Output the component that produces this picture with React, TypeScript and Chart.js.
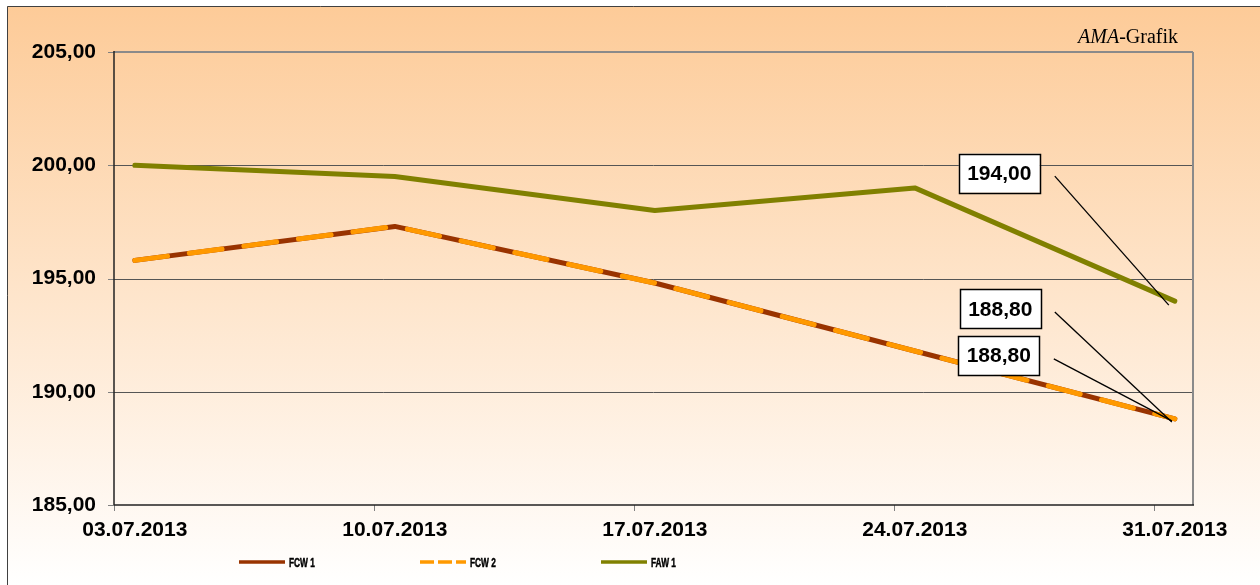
import React, { useEffect, useRef } from 'react';
import { Chart, registerables } from 'chart.js';

Chart.register(...registerables);

const categories = ['03.07.2013', '10.07.2013', '17.07.2013', '24.07.2013', '31.07.2013'];
const fcw1Values = [195.8, 197.3, 194.8, 191.8, 188.8];
const fcw2Values = [195.8, 197.3, 194.8, 191.8, 188.8];
const faw1Values = [200.0, 199.5, 198.0, 199.0, 194.0];
const seriesNames = ['FCW 1', 'FCW 2', 'FAW 1'];
const yTicks = [185, 190, 195, 200, 205];

const W = 1260;
const H = 585;
const X_MIN = -0.08;
const X_MAX = 4.07;
const FONT = '"Liberation Sans", Arial, sans-serif';

const fmt = (v: number) => v.toFixed(2).replace('.', ',');

const line = (ctx: CanvasRenderingContext2D, x1: number, y1: number, x2: number, y2: number) => {
  ctx.beginPath();
  ctx.moveTo(x1, y1);
  ctx.lineTo(x2, y2);
  ctx.stroke();
};

const framePlugin = {
  id: 'frame',
  beforeDraw(chart: any) {
    const ctx = chart.ctx as CanvasRenderingContext2D;
    ctx.save();
    ctx.fillStyle = '#ffffff';
    ctx.fillRect(0, 0, W, H);
    const g = ctx.createLinearGradient(0, 6, 0, H);
    g.addColorStop(0, '#FDCB98');
    g.addColorStop(1, '#FFFFFF');
    ctx.fillStyle = g;
    ctx.fillRect(7, 6, W - 7, H - 6);
    ctx.strokeStyle = '#404040';
    ctx.lineWidth = 1;
    ctx.beginPath();
    ctx.moveTo(7.5, H);
    ctx.lineTo(7.5, 6.5);
    ctx.lineTo(W, 6.5);
    ctx.stroke();
    // title
    ctx.fillStyle = '#000';
    ctx.textBaseline = 'alphabetic';
    ctx.font = '20px "Liberation Serif", "Times New Roman", serif';
    const rest = '-Grafik';
    const restW = ctx.measureText(rest).width;
    ctx.font = 'italic 20px "Liberation Serif", "Times New Roman", serif';
    const amaW = ctx.measureText('AMA').width;
    const xEnd = 1178;
    const x0 = xEnd - restW - amaW;
    ctx.fillText('AMA', x0, 43);
    ctx.font = '20px "Liberation Serif", "Times New Roman", serif';
    ctx.fillText(rest, x0 + amaW, 43);
    ctx.restore();
  },
  beforeDatasetsDraw(chart: any) {
    const ctx = chart.ctx as CanvasRenderingContext2D;
    const { left, right, top, bottom } = chart.chartArea;
    const y = chart.scales.y;
    const x = chart.scales.x;
    ctx.save();
    ctx.lineWidth = 1;
    yTicks.forEach((v) => {
      const py = Math.round(y.getPixelForValue(v)) + 0.5;
      if (v > yTicks[0] && v < yTicks[yTicks.length - 1]) {
        ctx.strokeStyle = '#555555';
        line(ctx, left, py, right, py);
      }
      ctx.strokeStyle = '#808080';
      line(ctx, left - 6, py, left, py);
    });
    categories.forEach((_, i) => {
      const px = Math.round(x.getPixelForValue(i + X_MIN)) + 0.5;
      ctx.strokeStyle = '#808080';
      line(ctx, px, bottom, px, bottom + 6);
    });
    ctx.strokeStyle = '#8a8a8a';
    ctx.lineWidth = 2;
    line(ctx, left, top, right, top);
    line(ctx, right, top, right, bottom);
    ctx.strokeStyle = '#222222';
    ctx.lineWidth = 1.5;
    line(ctx, left, top - 1, left, bottom);
    line(ctx, left, bottom, right + 1, bottom);
    ctx.restore();
  },
};

// label placement relative to the last point of each dataset (style only)
const labelPlacement = [
  { bx: -174.5, by: -110, lx1: -120, ly1: -107, lx2: -3, ly2: 3 },
  { bx: -176, by: -63.5, lx1: -121, ly1: -60, lx2: -3, ly2: 2 },
  { bx: -175.5, by: -128, lx1: -120, ly1: -125, lx2: -6, ly2: 4 },
];

const labelPlugin = {
  id: 'lastLabels',
  afterDatasetsDraw(chart: any) {
    const ctx = chart.ctx as CanvasRenderingContext2D;
    ctx.save();
    chart.data.datasets.forEach((ds: any, di: number) => {
      const meta = chart.getDatasetMeta(di);
      const n = meta.data.length - 1;
      const pt = meta.data[n];
      const p = labelPlacement[di];
      ctx.strokeStyle = '#000';
      ctx.lineWidth = 1.3;
      line(ctx, pt.x + p.lx1, pt.y + p.ly1, pt.x + p.lx2, pt.y + p.ly2);
    });
    chart.data.datasets.forEach((ds: any, di: number) => {
      const meta = chart.getDatasetMeta(di);
      const n = meta.data.length - 1;
      const pt = meta.data[n];
      const val = ds.data[n].y as number;
      const p = labelPlacement[di];
      const cx = pt.x + p.bx;
      const cy = pt.y + p.by;
      const bw = 81;
      const bh = 39;
      ctx.fillStyle = '#ffffff';
      ctx.fillRect(cx - bw / 2, cy - bh / 2, bw, bh);
      ctx.strokeStyle = '#000';
      ctx.lineWidth = 1.5;
      ctx.strokeRect(Math.round(cx - bw / 2) + 0.5, Math.round(cy - bh / 2) + 0.5, bw, bh);
      ctx.fillStyle = '#000';
      ctx.font = `bold 21px ${FONT}`;
      ctx.textAlign = 'center';
      ctx.textBaseline = 'middle';
      ctx.fillText(fmt(val), cx, cy + 1);
    });
    ctx.restore();
  },
};

const legendItems = [
  { x: 239, color: '#993300', dash: [] as number[] },
  { x: 420, color: '#FF9900', dash: [14, 4] },
  { x: 601, color: '#808000', dash: [] as number[] },
];

const legendPlugin = {
  id: 'customLegend',
  afterDraw(chart: any) {
    const ctx = chart.ctx as CanvasRenderingContext2D;
    ctx.save();
    legendItems.forEach((it, i) => {
      ctx.strokeStyle = it.color;
      ctx.lineWidth = 3.5;
      ctx.setLineDash(it.dash);
      line(ctx, it.x, 562, it.x + 46, 562);
      ctx.setLineDash([]);
      ctx.save();
      ctx.translate(it.x + 50, 566.5);
      ctx.scale(0.64, 1);
      ctx.fillStyle = '#000';
      ctx.font = `bold 13px ${FONT}`;
      ctx.textBaseline = 'alphabetic';
      ctx.fillText(seriesNames[i], 0, 0);
      ctx.lineWidth = 0.5;
      ctx.strokeStyle = '#000';
      ctx.strokeText(seriesNames[i], 0, 0);
      ctx.restore();
    });
    ctx.restore();
  },
};

export default function App() {
  const ref = useRef<HTMLCanvasElement | null>(null);
  useEffect(() => {
    document.body.style.margin = '0';
    if (!ref.current) return;
    const toPts = (arr: number[]) => arr.map((v, i) => ({ x: i, y: v }));
    const chart = new Chart(ref.current, {
      type: 'line',
      data: {
        datasets: [
          {
            label: seriesNames[0],
            data: toPts(fcw1Values),
            borderColor: '#993300',
            borderWidth: 5,
            borderCapStyle: 'round',
            borderJoinStyle: 'round',
            pointRadius: 0,
            tension: 0,
            fill: false,
            order: 2,
          },
          {
            label: seriesNames[1],
            data: toPts(fcw2Values),
            borderColor: '#FF9900',
            borderWidth: 5,
            borderDash: [33, 22],
            borderCapStyle: 'round',
            borderJoinStyle: 'round',
            pointRadius: 0,
            tension: 0,
            fill: false,
            order: 1,
          },
          {
            label: seriesNames[2],
            data: toPts(faw1Values),
            borderColor: '#808000',
            borderWidth: 5,
            borderCapStyle: 'round',
            borderJoinStyle: 'round',
            pointRadius: 0,
            tension: 0,
            fill: false,
            order: 0,
          },
        ],
      } as any,
      options: {
        responsive: false,
        animation: false,
        devicePixelRatio: 1,
        layout: { padding: { left: 0, top: 52, right: 67, bottom: 0 } },
        plugins: { legend: { display: false }, tooltip: { enabled: false }, title: { display: false } },
        scales: {
          x: {
            type: 'linear',
            min: X_MIN,
            max: X_MAX,
            grid: { display: false, drawTicks: false },
            border: { display: false },
            afterBuildTicks: (s: any) => {
              s.ticks = categories.map((_, i) => ({ value: i }));
            },
            afterFit: (s: any) => {
              s.height = 80;
            },
            ticks: {
              autoSkip: false,
              maxRotation: 0,
              minRotation: 0,
              padding: 13,
              color: '#000',
              font: { family: FONT, size: 21, weight: 'bold' },
              callback: (v: any) => categories[Math.round(Number(v))] ?? '',
            },
          },
          y: {
            min: 185,
            max: 205,
            grid: { display: false, drawTicks: false },
            border: { display: false },
            afterBuildTicks: (s: any) => {
              s.ticks = yTicks.map((v) => ({ value: v }));
            },
            afterFit: (s: any) => {
              s.width = 114;
            },
            ticks: {
              padding: 18,
              color: '#000',
              font: { family: FONT, size: 21, weight: 'bold' },
              callback: (v: any) => fmt(Number(v)),
            },
          },
        },
      } as any,
      plugins: [framePlugin, labelPlugin, legendPlugin],
    });
    return () => chart.destroy();
  }, []);
  return (
    <div style={{ width: W, height: H }}>
      <canvas ref={ref} width={W} height={H} style={{ display: 'block' }} />
    </div>
  );
}
